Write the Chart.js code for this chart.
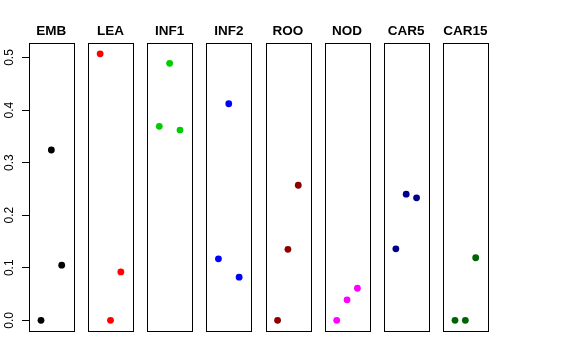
<!DOCTYPE html>
<html>
<head>
<meta charset="utf-8">
<script src="https://cdn.jsdelivr.net/npm/chart.js@4/dist/chart.umd.min.js"></script>
<style>
  html, body { margin: 0; padding: 0; background: #fff; }
  #wrap { width: 576px; height: 360px; }
</style>
</head>
<body>
<div id="wrap"><canvas id="chart" width="576" height="360"></canvas></div>
<script>
// panel names and the three values shown in each panel
const tissues = ['EMB', 'LEA', 'INF1', 'INF2', 'ROO', 'NOD', 'CAR5', 'CAR15'];
const embValues = [0.000, 0.324, 0.105];
const leaValues = [0.507, 0.000, 0.092];
const inf1Values = [0.369, 0.489, 0.362];
const inf2Values = [0.117, 0.412, 0.082];
const rooValues = [0.000, 0.135, 0.257];
const nodValues = [0.000, 0.039, 0.061];
const car5Values = [0.136, 0.240, 0.233];
const car15Values = [0.000, 0.000, 0.119];
const yTicks = [0, 0.1, 0.2, 0.3, 0.4, 0.5];
const colors = ['#000000', '#FF0000', '#00CD00', '#0000FF', '#8B0000', '#FF00FF', '#00008B', '#006400'];

const allValues = [embValues, leaValues, inf1Values, inf2Values, rooValues, nodValues, car5Values, car15Values];

// each panel spans x 0..4 (plus R's 4% padding); panels sit side by side
const panelPad = 0.16;
const panelStep = 5.714;
const yMin = -0.0203, yMax = 0.527;

const datasets = tissues.map((name, i) => ({
    label: name,
    data: allValues[i].map((v, j) => ({ x: i * panelStep + j + 1, y: v })),
    backgroundColor: colors[i],
    borderColor: colors[i],
    borderWidth: 0,
    pointRadius: 3.4,
    pointHoverRadius: 3.4
}));

const panelPlugin = {
    id: 'panels',
    afterDatasetsDraw(chart) {
        const ctx = chart.ctx;
        const xs = chart.scales.x;
        const area = chart.chartArea;
        ctx.save();
        ctx.strokeStyle = '#000';
        ctx.lineWidth = 1;
        tissues.forEach((name, i) => {
            const left = xs.getPixelForValue(i * panelStep - panelPad);
            const right = xs.getPixelForValue(i * panelStep + 4 + panelPad);
            ctx.strokeRect(Math.round(left) + 0.5, Math.round(area.top) + 0.5,
                Math.round(right - left), Math.round(area.bottom - area.top));
            ctx.fillStyle = '#000';
            ctx.font = 'bold 13.5px "Liberation Sans", Arial, sans-serif';
            ctx.textAlign = 'center';
            ctx.textBaseline = 'alphabetic';
            ctx.fillText(name, (left + right) / 2, 35);
        });
        ctx.restore();
    }
};

new Chart(document.getElementById('chart'), {
    type: 'scatter',
    data: { datasets: datasets },
    options: {
        responsive: false,
        animation: false,
        layout: { padding: { left: 0, right: 88.3, top: 43.3, bottom: 29 } },
        plugins: {
            legend: { display: false },
            tooltip: { enabled: false }
        },
        scales: {
            x: {
                type: 'linear',
                display: false,
                min: -panelPad,
                max: 7 * panelStep + 4 + panelPad
            },
            y: {
                type: 'linear',
                min: yMin,
                max: yMax,
                afterBuildTicks: scale => { scale.ticks = yTicks.map(v => ({ value: v })); },
                afterFit: scale => { scale.width = 29; },
                grid: { drawOnChartArea: false, tickLength: 7, color: '#000' },
                border: { display: true, color: '#000' },
                ticks: {
                    minRotation: 90,
                    maxRotation: 90,
                    crossAlign: 'center',
                    padding: 4,
                    color: '#000',
                    font: { family: '"Liberation Sans", Arial, sans-serif', size: 12 },
                    callback: v => v.toFixed(1)
                }
            }
        }
    },
    plugins: [panelPlugin]
});
</script>
</body>
</html>
